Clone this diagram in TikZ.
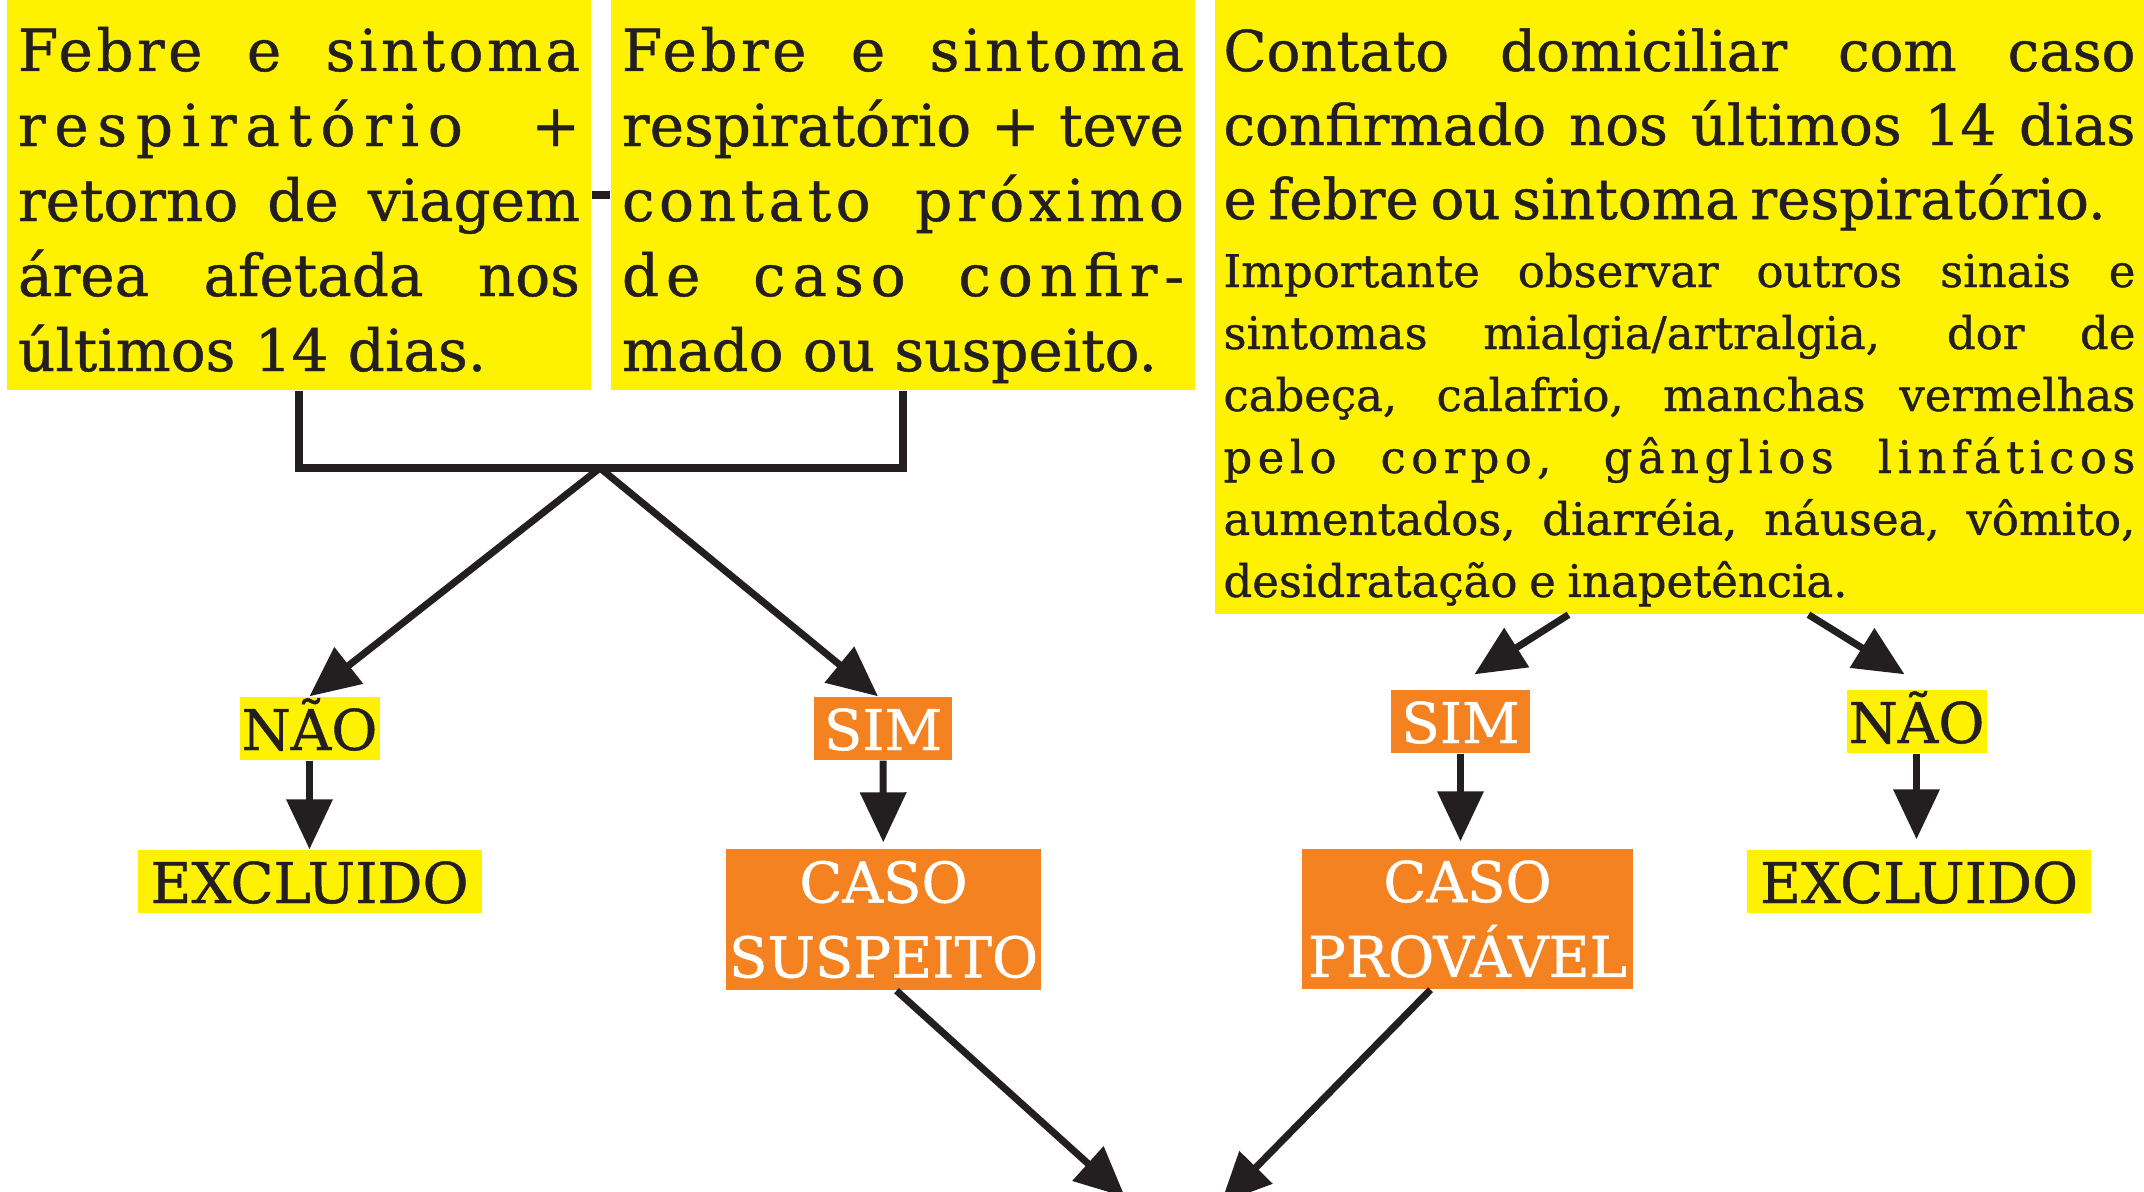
\documentclass[tikz,border=0pt]{standalone}
\usepackage{fontspec}
\setmainfont{DejaVu Serif}[FakeBold=0.8]
\usetikzlibrary{arrows.meta}

\definecolor{amarelo}{HTML}{FFF200}
\definecolor{laranja}{HTML}{F58220}
\definecolor{preto}{HTML}{231F20}

% linha justificada na largura da caixa
\newlength{\lcx}
\newcommand{\jl}[1]{\leavevmode\hbox to \lcx{\spaceskip=0.25em plus 1fil minus 0.1em\relax #1}\\}

\begin{document}
\begin{tikzpicture}[
	caixa/.style = {fill = amarelo, text = preto, inner xsep = 0.11cm, inner ysep = 0pt, align = left,
		text height = 0.71cm},
	rotulo/.style = {fill = amarelo, text = preto, inner sep = 0pt, align = center,
		font = \fontsize{16}{21.3}\selectfont},
	curto/.style = {text height = 0.53cm, text depth = 0.1cm, minimum height = 0.63cm},
	lar/.style = {rotulo, fill = laranja, text = white},
	linha/.style = {line width = 2pt, preto},
	seta/.style = {linha, -{Triangle[length = 5mm, width = 4.5mm]}}
	]
	\useasboundingbox (0,0) rectangle (21.44,-11.92);
	
	\coordinate[](juncao) at (6.0,-4.68) ;
	\coordinate[](fim1) at (11.25,-11.97) ;
	\coordinate[](fim2) at (12.21,-12.03) ;
	
	% caixas de criterio
	\node[caixa, text width = 5.62cm, text depth = 3.19cm,
		font = \fontsize{16.5}{21.34}\selectfont] (febre1) at (2.99,-1.95) {%
		\setlength{\lcx}{5.62cm}%
		\jl{\addfontfeature{LetterSpace=6}Febre e sintoma}
		\jl{\addfontfeature{LetterSpace=15}respiratório +}
		\jl{retorno de viagem}
		\jl{área afetada nos}
		últimos 14 dias.};
	\node[caixa, text width = 5.62cm, text depth = 3.19cm,
		font = \fontsize{16.5}{21.34}\selectfont] (febre2) at (9.03,-1.95) {%
		\setlength{\lcx}{5.62cm}%
		\jl{\addfontfeature{LetterSpace=6}Febre e sintoma}
		\jl{respiratório + teve}
		\jl{\addfontfeature{LetterSpace=8}contato próximo}
		\jl{\addfontfeature{LetterSpace=12}de caso confir-}
		mado ou suspeito.};
	\node[caixa, inner xsep = 0.085cm, text width = 9.12cm, text depth = 5.43cm] (contato) at (16.795,-3.07) {%
		\setlength{\lcx}{9.12cm}%
		{\fontsize{16}{21.06}\selectfont
		\jl{Contato domiciliar com caso}
		\jl{confirmado nos últimos 14 dias}
		e febre ou sintoma respiratório.\par}
		\vspace{1.7pt}
		{\fontsize{12.8}{17.64}\selectfont
		\jl{Importante observar outros sinais e}
		\jl{sintomas mialgia/artralgia, dor de}
		\jl{cabeça, calafrio, manchas vermelhas}
		\jl{\addfontfeature{LetterSpace=12}pelo corpo, gânglios linfáticos}
		\jl{aumentados, diarréia, náusea, vômito,}
		desidratação e inapetência.\par}};
	
	% respostas
	\node[rotulo, curto, minimum width = 1.40cm] (nao1) at (3.095,-7.285) {NÃO};
	\node[lar, curto, minimum width = 1.38cm] (sim1) at (8.83,-7.285) {SIM};
	\node[rotulo, curto, minimum width = 3.44cm] (excl1) at (3.095,-8.815) {EXCLUIDO};
	\node[lar, minimum width = 3.15cm, minimum height = 1.41cm] (suspeito) at (8.835,-9.195) {CASO\\SUSPEITO};
	\node[lar, curto, minimum width = 1.39cm] (sim2) at (14.605,-7.215) {SIM};
	\node[rotulo, curto, minimum width = 1.40cm] (nao2) at (19.165,-7.215) {NÃO};
	\node[lar, minimum width = 3.31cm, minimum height = 1.40cm] (provavel) at (14.675,-9.19) {CASO\\PROVÁVEL};
	\node[rotulo, curto, minimum width = 3.44cm] (excl2) at (19.19,-8.815) {EXCLUIDO};
	
	% ligacoes
	\draw[linha] (febre1) -- (febre2);
	\draw[linha] (febre1.south) |- (juncao) -| (febre2.south);
	\draw[seta] (juncao) -- (nao1.north);
	\draw[seta] (juncao) -- ([xshift = -0.05cm]sim1.north);
	\draw[seta] (nao1) -- (excl1);
	\draw[seta, shorten > = 0.06cm] (sim1) -- (suspeito);
	
	\draw[seta] ([xshift = -1.11cm]contato.south) -- ([xshift = 0.14cm, yshift = 0.15cm]sim2.north);
	\draw[seta] ([xshift = 1.29cm]contato.south) -- ([xshift = -0.12cm, yshift = 0.15cm]nao2.north);
	\draw[seta, shorten > = 0.07cm] (sim2.south) -- (sim2.south |- provavel.north);
	\draw[seta, shorten > = 0.1cm] (nao2.south) -- (nao2.south |- excl2.north);
	
	\draw[seta] ([xshift = 0.13cm]suspeito.south) -- (fim1);
	\draw[seta] ([xshift = -0.37cm]provavel.south) -- (fim2);
\end{tikzpicture}
\end{document}
